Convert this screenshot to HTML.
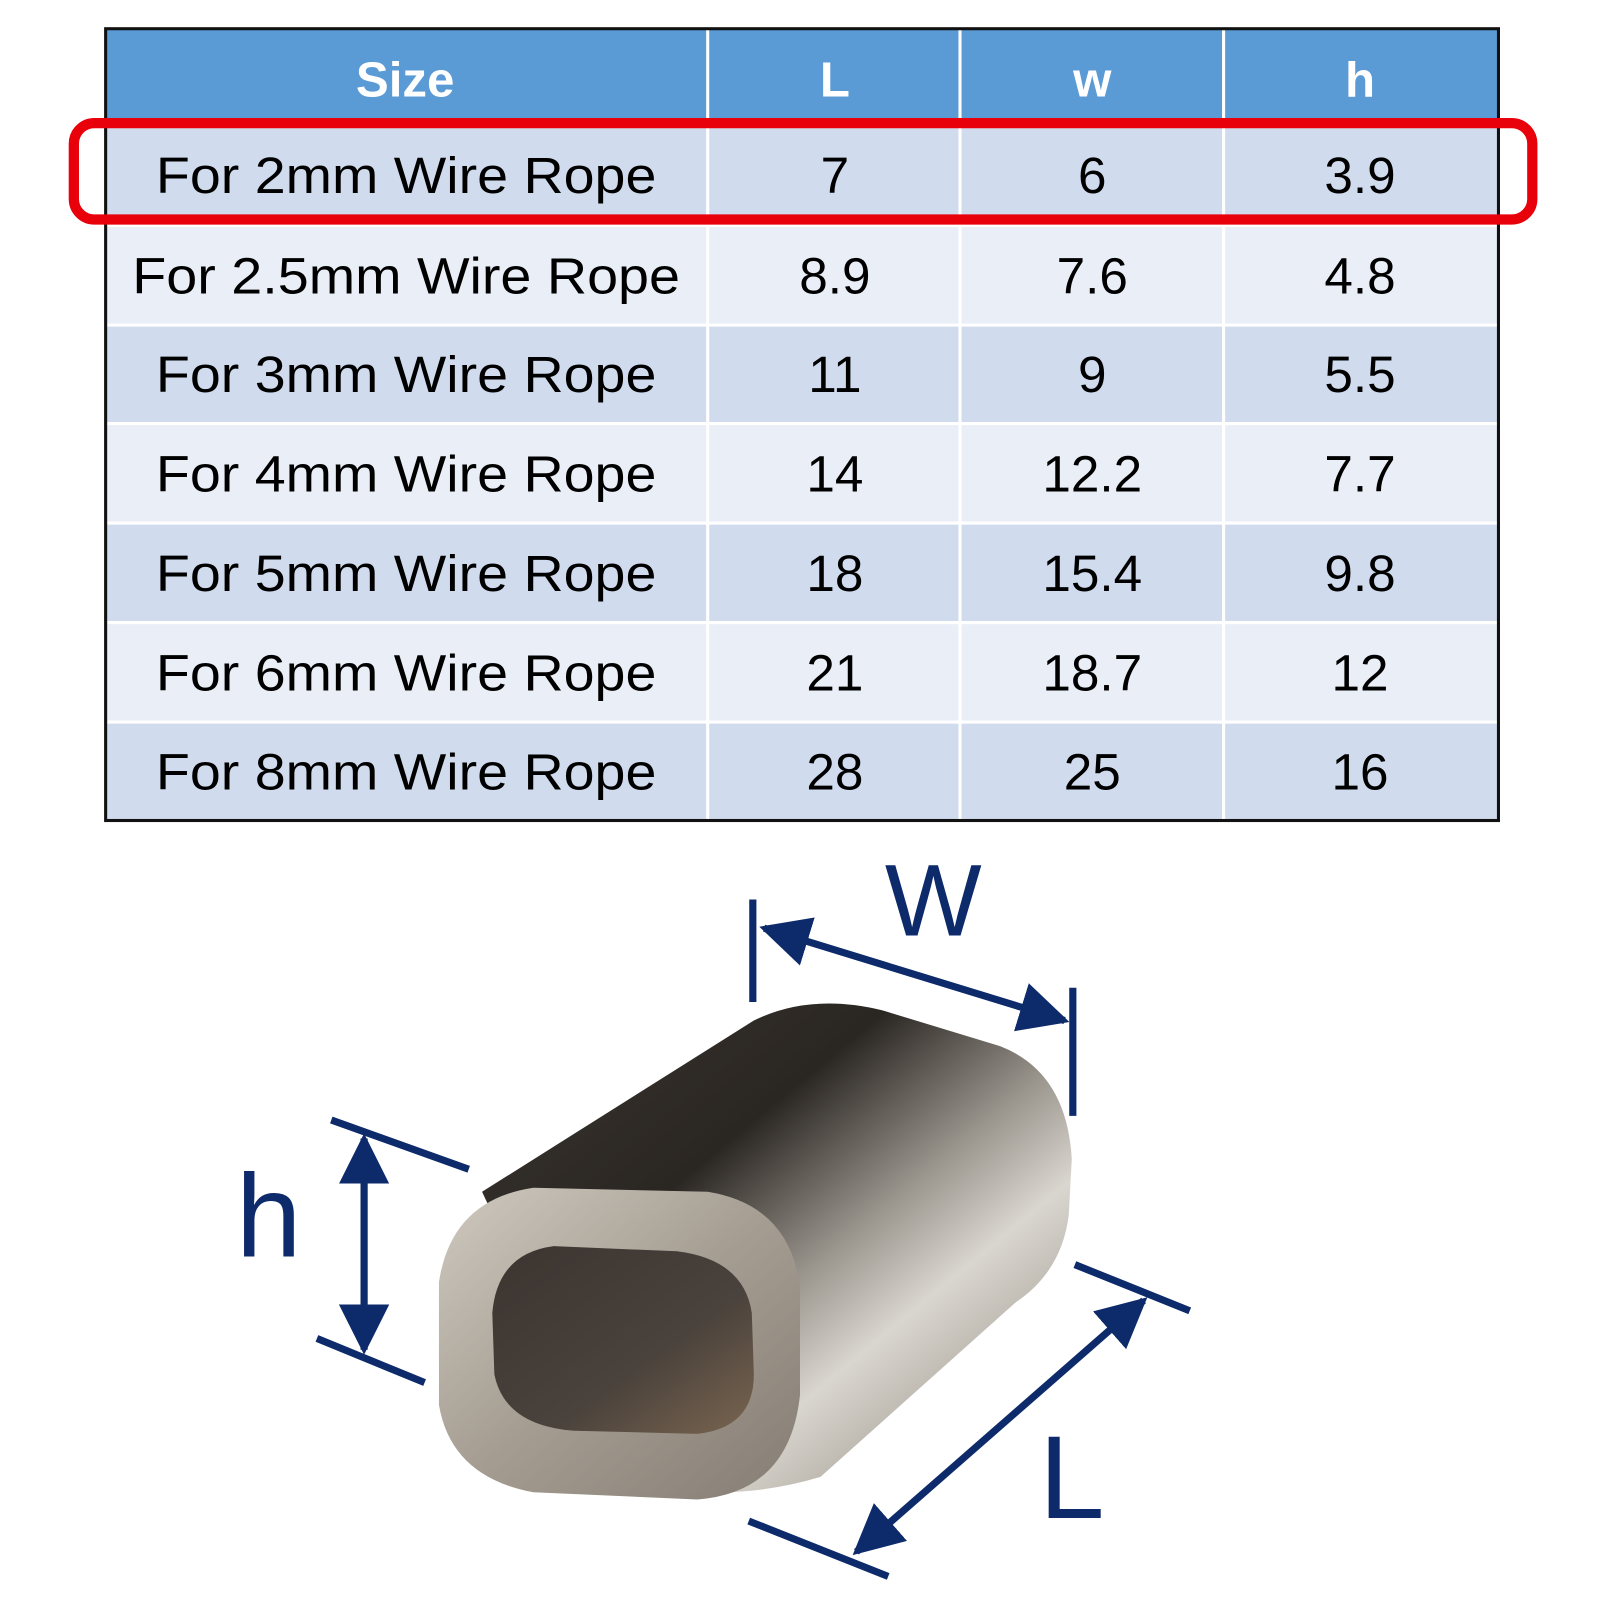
<!DOCTYPE html>
<html><head><meta charset="utf-8"><style>html,body{margin:0;padding:0;background:#fff}svg{display:block}</style></head>
<body>
<svg width="1600" height="1600" viewBox="0 0 1560 1560" xmlns="http://www.w3.org/2000/svg" font-family="'Liberation Sans', sans-serif">
<defs>
<linearGradient id="body" x1="0" y1="0" x2="1" y2="1" gradientUnits="objectBoundingBox">
<stop offset="0" stop-color="#3a3530"/><stop offset="0.35" stop-color="#2a2622"/><stop offset="0.55" stop-color="#9a958d"/><stop offset="0.68" stop-color="#d9d6cf"/><stop offset="0.85" stop-color="#a9a49b"/><stop offset="1" stop-color="#c8c4bc"/>
</linearGradient>
<linearGradient id="face" x1="0" y1="0" x2="1" y2="1">
<stop offset="0" stop-color="#cfc9bf"/><stop offset="0.5" stop-color="#a59d92"/><stop offset="1" stop-color="#857d73"/>
</linearGradient>
<linearGradient id="hole" x1="0" y1="0" x2="1" y2="1">
<stop offset="0" stop-color="#3b3430"/><stop offset="0.6" stop-color="#4a423c"/><stop offset="1" stop-color="#7a6550"/>
</linearGradient>
<marker id="ah" viewBox="0 0 10 10" refX="9" refY="5" markerWidth="7" markerHeight="7" orient="auto-start-reverse" markerUnits="strokeWidth"><path d="M0,0 L10,5 L0,10 Z" fill="#0d2a6b"/></marker>
</defs>
<rect x="103" y="28" width="1358" height="90" fill="#5b9bd5"/>
<rect x="103" y="118" width="1358" height="102" fill="#d0dcee"/>
<rect x="103" y="220" width="1358" height="97" fill="#e9eef7"/>
<rect x="103" y="317" width="1358" height="96" fill="#d0dcee"/>
<rect x="103" y="413" width="1358" height="97" fill="#e9eef7"/>
<rect x="103" y="510" width="1358" height="97" fill="#d0dcee"/>
<rect x="103" y="607" width="1358" height="97" fill="#e9eef7"/>
<rect x="103" y="704" width="1358" height="96" fill="#d0dcee"/>
<g stroke="#fff" stroke-width="3">
<line x1="103" y1="118" x2="1461" y2="118"/><line x1="103" y1="220" x2="1461" y2="220"/><line x1="103" y1="317" x2="1461" y2="317"/><line x1="103" y1="413" x2="1461" y2="413"/><line x1="103" y1="510" x2="1461" y2="510"/><line x1="103" y1="607" x2="1461" y2="607"/><line x1="103" y1="704" x2="1461" y2="704"/>
<line x1="690" y1="28" x2="690" y2="800"/><line x1="936" y1="28" x2="936" y2="800"/><line x1="1193" y1="28" x2="1193" y2="800"/>
</g>
<rect x="103" y="28" width="1358" height="772" fill="none" stroke="#111" stroke-width="3"/>
<g font-size="48" font-weight="bold" fill="#fff" text-anchor="middle">
<text x="395" y="94">Size</text><text x="814" y="94">L</text><text x="1065" y="94">w</text><text x="1326" y="94">h</text>
</g>
<g font-size="50" fill="#000" text-anchor="middle">
<text x="396" y="188" textLength="488" lengthAdjust="spacingAndGlyphs">For 2mm Wire Rope</text><text x="814" y="188">7</text><text x="1065" y="188">6</text><text x="1326" y="188">3.9</text>
<text x="396" y="286" textLength="534" lengthAdjust="spacingAndGlyphs">For 2.5mm Wire Rope</text><text x="814" y="286">8.9</text><text x="1065" y="286">7.6</text><text x="1326" y="286">4.8</text>
<text x="396" y="382" textLength="488" lengthAdjust="spacingAndGlyphs">For 3mm Wire Rope</text><text x="814" y="382">11</text><text x="1065" y="382">9</text><text x="1326" y="382">5.5</text>
<text x="396" y="479" textLength="488" lengthAdjust="spacingAndGlyphs">For 4mm Wire Rope</text><text x="814" y="479">14</text><text x="1065" y="479">12.2</text><text x="1326" y="479">7.7</text>
<text x="396" y="576" textLength="488" lengthAdjust="spacingAndGlyphs">For 5mm Wire Rope</text><text x="814" y="576">18</text><text x="1065" y="576">15.4</text><text x="1326" y="576">9.8</text>
<text x="396" y="673" textLength="488" lengthAdjust="spacingAndGlyphs">For 6mm Wire Rope</text><text x="814" y="673">21</text><text x="1065" y="673">18.7</text><text x="1326" y="673">12</text>
<text x="396" y="770" textLength="488" lengthAdjust="spacingAndGlyphs">For 8mm Wire Rope</text><text x="814" y="770">28</text><text x="1065" y="770">25</text><text x="1326" y="770">16</text>
</g>
<rect x="72" y="120" width="1422" height="94" rx="20" fill="none" stroke="#e8000b" stroke-width="10"/>
<path d="M470,1162 L735,995 Q790,968 860,985 L975,1020 Q1040,1045 1045,1130 L1042,1185 Q1035,1240 990,1270 L800,1440 Q700,1470 600,1440 Z" fill="url(#body)"/>
<path d="M520,1158 Q440,1170 428,1250 L428,1370 Q440,1440 520,1455 L680,1462 Q770,1455 780,1360 L780,1255 Q770,1175 690,1162 Z" fill="url(#face)"/>
<path d="M540,1215 Q485,1222 480,1280 L482,1340 Q492,1390 560,1395 L680,1398 Q735,1392 735,1340 L733,1280 Q725,1228 660,1220 Z" fill="url(#hole)"/>
<g stroke="#0d2a6b" stroke-width="7" fill="none">
<line x1="734" y1="877" x2="734" y2="977"/><line x1="1046" y1="963" x2="1046" y2="1088"/>
<line x1="745" y1="905" x2="1038" y2="995" marker-start="url(#ah)" marker-end="url(#ah)"/>
<line x1="323" y1="1092" x2="457" y2="1140"/><line x1="309" y1="1305" x2="414" y2="1348"/>
<line x1="355" y1="1110" x2="355" y2="1316" marker-start="url(#ah)" marker-end="url(#ah)"/>
<line x1="1048" y1="1233" x2="1160" y2="1278"/><line x1="730" y1="1483" x2="866" y2="1537"/>
<line x1="1115" y1="1268" x2="835" y2="1513" marker-start="url(#ah)" marker-end="url(#ah)"/>
</g>
<g fill="#0d2a6b" text-anchor="middle">
<text x="910" y="912" font-size="100">W</text><text x="262" y="1225" font-size="115">h</text><text x="1045" y="1480" font-size="115">L</text>
</g>
</svg>
</body></html>
